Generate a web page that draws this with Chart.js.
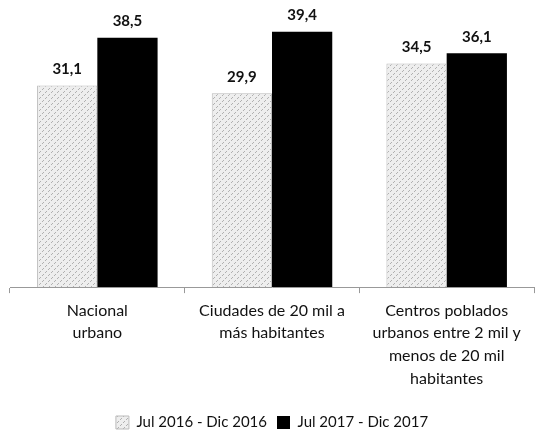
<!DOCTYPE html>
<html>
<head>
<meta charset="utf-8">
<script src="https://cdn.jsdelivr.net/npm/chart.js@4"></script>
<style>
  html, body { margin: 0; padding: 0; background: #fff; }
  #wrap { width: 546px; height: 432px; }
</style>
</head>
<body>
<div id="wrap"><canvas id="chart" width="546" height="432"></canvas></div>
<script>
const categories = [
  ["Nacional", "urbano"],
  ["Ciudades de 20 mil a", "más habitantes"],
  ["Centros poblados", "urbanos entre 2 mil y", "menos de 20 mil", "habitantes"]
];
const seriesNames = ["Jul 2016 - Dic 2016", "Jul 2017 - Dic 2017"];
const values2016 = [31.1, 29.9, 34.5];
const values2017 = [38.5, 39.4, 36.1];

// hatched light grey fill for the first period
function makeHatch() {
  const c = document.createElement("canvas");
  c.width = 6; c.height = 6;
  const g = c.getContext("2d");
  g.fillStyle = "#eeeeee";
  g.fillRect(0, 0, 6, 6);
  g.strokeStyle = "#b0b0b0";
  g.lineWidth = 1;
  g.beginPath();
  g.moveTo(0, 6); g.lineTo(2, 4);
  g.moveTo(3, 3); g.lineTo(5, 1);
  g.stroke();
  return g.createPattern(c, "repeat");
}
const hatch = makeHatch();

const valueLabels = {
  id: "valueLabels",
  afterDatasetsDraw(chart) {
    const ctx = chart.ctx;
    ctx.save();
    ctx.font = "bold 15px Lato";
    ctx.fillStyle = "#111";
    ctx.textAlign = "center";
    ctx.textBaseline = "bottom";
    chart.data.datasets.forEach((ds, i) => {
      chart.getDatasetMeta(i).data.forEach((bar, j) => {
        ctx.fillText(ds.data[j].toFixed(1).replace(".", ","), bar.x, bar.y - 9);
      });
    });
    ctx.restore();
  }
};

new Chart(document.getElementById("chart"), {
  type: "bar",
  data: {
    labels: categories,
    datasets: [
      {
        label: seriesNames[0],
        data: values2016,
        backgroundColor: hatch,
        borderColor: "#bbb",
        borderWidth: 1
      },
      {
        label: seriesNames[1],
        data: values2017,
        backgroundColor: "#000",
        borderWidth: 0
      }
    ]
  },
  options: {
    responsive: false,
    animation: false,
    layout: { padding: { left: 10, right: 12, top: 2, bottom: -8 } },
    datasets: { bar: { barPercentage: 1, categoryPercentage: 0.69 } },
    scales: {
      x: {
        grid: { offset: true, drawOnChartArea: false, tickLength: 6, color: "#999" },
        border: { color: "#999" },
        ticks: { color: "#111", font: { family: "Lato", size: 16, lineHeight: 1.42 }, maxRotation: 0, padding: 6 },
        afterFit(scale) { scale.height += 9; }
      },
      y: { display: false, min: 0, max: 44 }
    },
    plugins: {
      tooltip: { enabled: false },
      legend: {
        position: "bottom",
        labels: {
          color: "#111",
          font: { family: "Lato", size: 15 },
          boxWidth: 13,
          boxHeight: 13,
          padding: 10
        }
      }
    }
  },
  plugins: [valueLabels]
});
</script>
</body>
</html>
